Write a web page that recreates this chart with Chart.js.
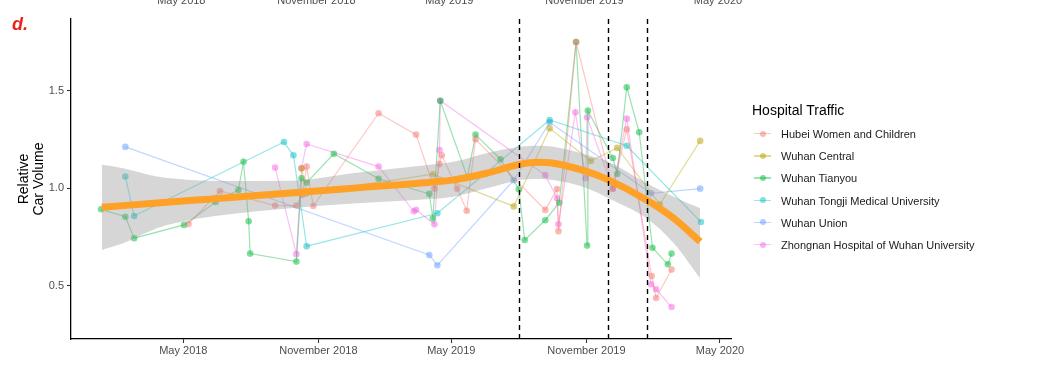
<!DOCTYPE html>
<html>
<head>
<meta charset="utf-8">
<script src="https://cdn.jsdelivr.net/npm/chart.js@4.4.1/dist/chart.umd.min.js"></script>
<style>
  html, body { margin: 0; padding: 0; background: #ffffff; }
  #wrap { position: relative; width: 1044px; height: 374px; overflow: hidden; font-family: "Liberation Sans", Arial, sans-serif; }
  #c { position: absolute; left: 0; top: 0; }
  #panel { position: absolute; left: 12px; top: 14px; color: #E8231A; font: italic bold 18px "Liberation Sans", Arial, sans-serif; }
  #legend { position: absolute; left: 0; top: 0; width: 1044px; height: 374px; pointer-events: none; }
  #legend .title { position: absolute; left: 752px; top: 101px; font-size: 14px; line-height: 18px; color: #000; white-space: nowrap; }
  #legend .item { position: absolute; left: 752px; height: 20px; width: 260px; }
  #legend .ln { position: absolute; left: 2px; top: 9px; width: 17px; height: 1.4px; }
  #legend .pt { position: absolute; left: 7.5px; top: 6.7px; width: 6px; height: 6px; border-radius: 50%; }
  #legend .tx { position: absolute; left: 29px; top: 3px; font-size: 11px; line-height: 14px; color: #1a1a1a; white-space: nowrap; }
</style>
</head>
<body>
<div id="wrap">
  <canvas id="c" width="1044" height="374"></canvas>
  <div id="panel">d.</div>
  <div id="legend"></div>
</div>
<script>
// ---------------- data ----------------
const hospitalNames = [
  'Hubei Women and Children',
  'Wuhan Central',
  'Wuhan Tianyou',
  'Wuhan Tongji Medical University',
  'Wuhan Union',
  'Zhongnan Hospital of Wuhan University'
];

const hubeiDates = ['2018-05-08','2018-06-20','2018-09-03','2018-10-02','2018-10-10','2018-10-16','2018-10-25','2019-01-22','2019-03-14','2019-04-08','2019-04-15','2019-04-18','2019-05-09','2019-05-22','2019-06-03','2019-09-06','2019-09-22','2019-09-24','2019-10-18','2019-12-07','2019-12-26','2020-01-29','2020-02-04','2020-02-25'];
const hubeiValues = [0.818,0.987,0.912,0.912,0.967,1.112,0.910,1.386,1.276,0.999,1.126,1.170,0.999,0.886,1.252,0.890,0.997,0.781,1.751,0.999,1.304,0.551,0.438,0.584];

const centralDates = ['2018-10-09','2018-10-16','2019-04-06','2019-07-25','2019-09-12','2019-11-07','2019-12-13','2020-02-09','2020-04-04'];
const centralValues = [1.104,0.975,1.073,0.908,1.308,1.141,1.208,0.919,1.244];

const tianyouDates = ['2018-01-09','2018-02-11','2018-02-23','2018-05-02','2018-06-14','2018-07-15','2018-07-22','2018-07-29','2018-07-31','2018-10-02','2018-10-09','2018-10-16','2018-11-22','2019-01-22','2019-04-01','2019-04-06','2019-04-16','2019-05-23','2019-06-03','2019-07-07','2019-08-01','2019-08-09','2019-09-06','2019-09-25','2019-10-18','2019-11-02','2019-11-03','2019-12-07','2019-12-13','2019-12-26','2020-01-12','2020-01-30','2020-02-20','2020-02-25'];
const tianyouValues = [0.893,0.855,0.745,0.813,0.931,0.992,1.137,0.832,0.666,0.625,1.052,1.030,1.178,1.050,0.972,0.847,1.450,1.057,1.276,1.150,0.996,0.736,0.837,0.927,1.751,0.707,1.399,1.156,1.074,1.519,1.288,0.696,0.611,0.666];

const tongjiDates = ['2018-02-11','2018-02-23','2018-09-15','2018-09-28','2018-10-16','2019-04-12','2019-09-12','2019-12-26','2020-04-05'];
const tongjiValues = [1.061,0.859,1.238,1.170,0.704,0.873,1.351,1.219,0.828];

const unionDates = ['2018-02-11','2019-04-01','2019-04-12','2019-07-25','2019-09-12','2020-01-28','2020-04-04'];
const unionValues = [1.213,0.659,0.606,1.042,1.339,0.975,0.999];

const zhongnanDates = ['2018-09-03','2018-10-02','2018-10-09','2018-10-16','2019-01-22','2019-03-11','2019-03-14','2019-04-08','2019-04-15','2019-04-16','2019-09-06','2019-09-22','2019-09-24','2019-10-17','2019-10-31','2019-11-02','2019-12-07','2019-12-26','2020-01-28','2020-02-04','2020-02-25'];
const zhongnanValues = [1.107,0.663,1.104,1.228,1.112,0.883,0.891,0.816,1.197,1.450,1.069,0.950,0.816,1.391,1.052,1.365,0.999,1.358,0.509,0.483,0.392];

// smoothed trend (loess) with its confidence band
const smoothDates = ['2018-01-10','2018-02-08','2018-03-26','2018-05-10','2018-06-25','2018-09-24','2018-12-23','2019-04-02','2019-05-04','2019-06-18','2019-08-03','2019-08-26','2019-09-17','2019-11-02','2019-12-01','2020-01-22','2020-02-28','2020-04-04'];
const smoothFit   = [0.904,0.912,0.925,0.938,0.951,0.977,1.003,1.032,1.044,1.078,1.124,1.134,1.129,1.086,1.044,0.941,0.847,0.727];
const smoothUpper = [1.121,1.104,1.061,1.044,1.038,1.040,1.081,1.122,1.137,1.181,1.214,1.219,1.214,1.172,1.137,1.027,0.958,0.898];
const smoothLower = [0.685,0.719,0.796,0.838,0.864,0.898,0.924,0.946,0.958,1.001,1.044,1.049,1.044,1.001,0.950,0.847,0.719,0.539];

// event markers (dashed lines)
const eventDates = ['2019-08-01','2019-12-01','2020-01-23'];

// axes
const xTickDates  = ['2018-05-01','2018-11-01','2019-05-01','2019-11-01','2020-05-01'];
const xTickLabels = ['May 2018','November 2018','May 2019','November 2019','May 2020'];
const yTickValues = [0.5, 1.0, 1.5];
const yTickLabels = ['0.5','1.0','1.5'];
const xRange = ['2017-11-29','2020-05-16'];
const yRange = [0.228, 1.869];

// ---------------- styling ----------------
const FONT = '"Liberation Sans", Arial, sans-serif';
const palette = [[248,118,109],[183,159,0],[0,186,56],[0,191,196],[97,156,255],[245,100,227]];
const rgba = (c, a) => `rgba(${c[0]},${c[1]},${c[2]},${a})`;
const toXY = (dates, vals) => dates.map((d, i) => ({ x: Date.parse(d), y: vals[i] }));

const seriesDates = [hubeiDates, centralDates, tianyouDates, tongjiDates, unionDates, zhongnanDates];
const seriesValues = [hubeiValues, centralValues, tianyouValues, tongjiValues, unionValues, zhongnanValues];

const datasets = [];
datasets.push({
  label: 'trend', data: toXY(smoothDates, smoothFit), showLine: true,
  borderColor: '#FFA126', borderWidth: 7, pointRadius: 0, cubicInterpolationMode: 'monotone',
  borderCapStyle: 'butt', fill: false, order: 0
});
datasets.push({
  label: 'upper', data: toXY(smoothDates, smoothUpper), showLine: true,
  borderWidth: 0, borderColor: 'rgba(0,0,0,0)', pointRadius: 0, cubicInterpolationMode: 'monotone',
  backgroundColor: 'rgba(153,153,153,0.4)', fill: '+1', order: 1
});
datasets.push({
  label: 'lower', data: toXY(smoothDates, smoothLower), showLine: true,
  borderWidth: 0, borderColor: 'rgba(0,0,0,0)', pointRadius: 0, cubicInterpolationMode: 'monotone',
  fill: false, order: 1
});
hospitalNames.forEach((name, i) => {
  datasets.push({
    label: name, data: toXY(seriesDates[i], seriesValues[i]), showLine: true,
    borderColor: rgba(palette[i], 0.4), borderWidth: 1.2,
    backgroundColor: rgba(palette[i], 0.5), pointBackgroundColor: rgba(palette[i], 0.5),
    pointBorderWidth: 0, pointRadius: 3.3, tension: 0, fill: false, order: 2 + i
  });
});

const overlay = {
  id: 'overlay',
  afterDatasetsDraw(chart) {
    const { ctx, chartArea, scales } = chart;
    ctx.save();
    ctx.strokeStyle = '#000';
    ctx.lineWidth = 1.4;
    ctx.setLineDash([5, 4]);
    eventDates.forEach(d => {
      const x = Math.round(scales.x.getPixelForValue(Date.parse(d))) + 0.5;
      ctx.beginPath();
      ctx.moveTo(x, chartArea.top);
      ctx.lineTo(x, chartArea.bottom);
      ctx.stroke();
    });
    ctx.restore();
  },
  afterDraw(chart) {
    // top date axis labels (cut at the image edge in the reference)
    const { ctx, scales } = chart;
    ctx.save();
    ctx.font = '11px ' + FONT;
    ctx.fillStyle = '#4D4D4D';
    ctx.textAlign = 'center';
    ctx.textBaseline = 'alphabetic';
    xTickDates.forEach((d, i) => {
      ctx.fillText(xTickLabels[i], scales.x.getPixelForValue(Date.parse(d)) - 2, 3.5);
    });
    ctx.restore();
  }
};

new Chart(document.getElementById('c'), {
  type: 'scatter',
  data: { datasets },
  options: {
    responsive: false, animation: false, devicePixelRatio: 1,
    layout: { padding: { top: 19, right: 313, bottom: 0, left: 0 } },
    plugins: { legend: { display: false }, tooltip: { enabled: false } },
    scales: {
      x: {
        type: 'linear', min: Date.parse(xRange[0]), max: Date.parse(xRange[1]),
        afterBuildTicks: s => { s.ticks = xTickDates.map(d => ({ value: Date.parse(d) })); },
        afterFit: s => { s.height = 35; },
        ticks: { autoSkip: false, maxRotation: 0, padding: 1, color: '#4D4D4D', font: { family: FONT, size: 11 },
                 callback: (v, i) => xTickLabels[i] },
        grid: { drawOnChartArea: false, drawTicks: true, tickLength: 4, tickColor: '#333', tickWidth: 1.1 },
        border: { color: '#000', width: 1.3 }
      },
      y: {
        type: 'linear', min: yRange[0], max: yRange[1],
        afterBuildTicks: s => { s.ticks = yTickValues.map(v => ({ value: v })); },
        afterFit: s => { s.width = 71; },
        ticks: { padding: 3, color: '#4D4D4D', font: { family: FONT, size: 11 },
                 callback: (v, i) => yTickLabels[i] },
        grid: { drawOnChartArea: false, drawTicks: true, tickLength: 4, tickColor: '#333', tickWidth: 1.1 },
        border: { color: '#000', width: 1.3 },
        title: { display: true, text: ['Relative', 'Car Volume'], color: '#000',
                 font: { family: FONT, size: 14, lineHeight: 1.1 }, padding: { top: 16, bottom: 0 } }
      }
    }
  },
  plugins: [overlay]
});

// ---------------- legend (HTML text) ----------------
const leg = document.getElementById('legend');
const t = document.createElement('div');
t.className = 'title';
t.textContent = 'Hospital Traffic';
leg.appendChild(t);
hospitalNames.forEach((name, i) => {
  const it = document.createElement('div');
  it.className = 'item';
  it.style.top = (124 + i * 22.2) + 'px';
  it.innerHTML = `<div class="ln" style="background:${rgba(palette[i], 0.4)}"></div>` +
                 `<div class="pt" style="background:${rgba(palette[i], 0.5)}"></div>` +
                 `<div class="tx"></div>`;
  it.querySelector('.tx').textContent = name;
  leg.appendChild(it);
});
</script>
</body>
</html>
